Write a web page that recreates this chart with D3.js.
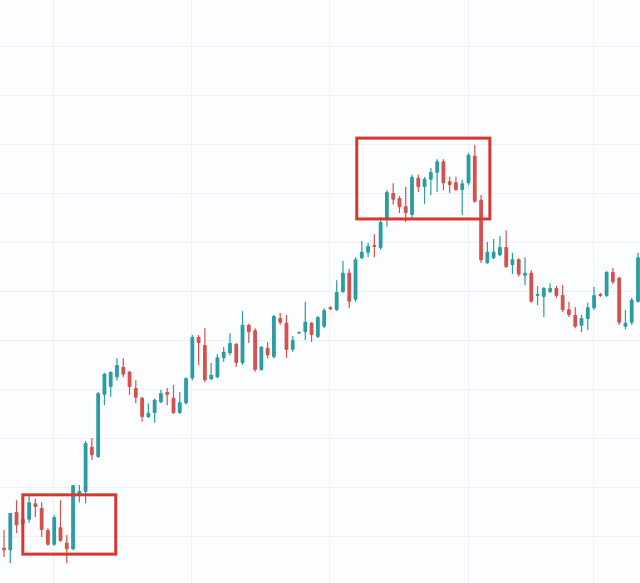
<!DOCTYPE html>
<html>
<head>
<meta charset="utf-8">
<script src="https://cdn.jsdelivr.net/npm/d3@7"></script>
<style>
  html, body { margin: 0; padding: 0; background: #fcfdfe; }
  #chart { width: 640px; height: 583px; }
</style>
</head>
<body>
<div id="chart"></div>
<script>

// Candles, one row per session: open, high, low, close.
const opens  = [7.6,7.1,14.9,13.5,13.3,16.7,15.7,11.2,8.2,11.8,8.6,7.3,18.4,19.0,28.2,26.1,38.8,40.4,42.4,44.5,
	43.5,40.2,38.2,34.3,35.1,37.3,39.4,38.2,35.1,37.1,42.2,50.6,49.0,42.0,42.4,46.3,47.3,49.2,45.3,53.1,
	52.0,43.9,48.4,46.5,54.5,53.5,48.0,51.6,51.6,53.5,50.6,52.7,56.7,56.1,59.8,63.7,58.2,66.7,67.8,69.4,
	68.8,74.5,80.0,79.0,77.3,75.5,83.1,81.2,82.7,84.1,86.5,82.4,82.2,80.6,82.0,87.6,78.6,65.7,66.7,67.3,
	69.0,65.3,66.5,63.1,63.7,59.0,58.8,59.8,60.6,59.2,56.3,55.1,52.9,54.3,56.5,59.4,59.0,63.9,62.7,52.7,
	53.5,57.8];
const highs  = [11.2,14.7,17.3,13.9,18.4,17.6,16.9,11.6,14.3,17.3,10.2,20.4,20.4,29.4,30.0,39.4,43.3,43.5,46.3,46.3,
	43.7,41.8,38.4,37.1,38.0,39.8,40.2,40.8,39.4,42.4,51.0,51.0,52.4,45.3,47.1,48.6,51.4,49.4,55.9,53.3,
	52.4,48.8,49.6,55.1,55.5,55.1,50.8,51.8,57.8,53.7,54.9,56.5,56.9,62.2,66.1,64.5,66.9,70.2,69.8,71.6,
	75.1,80.6,82.0,79.4,81.2,83.7,83.7,83.3,85.1,86.9,86.9,83.3,83.3,82.7,88.2,89.8,79.6,70.0,70.6,71.2,
	72.4,67.8,66.7,66.9,64.3,61.0,60.8,61.6,61.0,61.2,57.8,56.7,55.1,57.6,60.8,59.6,64.1,64.7,62.9,56.1,
	58.6,67.8];
const lows   = [5.7,4.5,10.6,12.0,12.7,13.9,9.8,8.0,8.0,8.8,4.5,7.1,16.9,16.7,25.5,25.9,36.7,38.4,41.8,42.4,
	38.8,37.1,33.3,34.1,33.1,37.1,36.7,34.9,34.9,36.9,41.8,44.9,41.4,41.8,42.2,45.5,46.9,44.5,44.9,49.4,
	43.5,43.7,46.3,46.3,53.1,46.3,47.6,51.4,50.0,49.6,50.4,52.4,56.1,55.9,59.6,56.5,57.8,66.5,66.9,66.9,
	68.4,73.1,77.6,75.9,74.1,74.9,80.2,77.8,79.6,80.2,80.6,80.0,80.4,75.5,81.6,78.0,65.7,65.5,66.5,67.1,
	64.7,63.5,62.9,61.2,57.6,57.1,54.7,59.6,58.6,55.7,54.7,52.4,51.6,52.0,56.1,58.8,58.8,61.4,53.1,52.2,
	53.1,57.6];
const closes = [7.1,14.7,12.2,12.4,16.9,15.9,11.2,8.2,13.9,9.0,7.3,20.4,19.2,29.0,26.5,39.2,43.1,43.5,44.9,42.9,
	40.4,38.2,34.3,35.1,37.8,39.2,38.8,35.1,37.3,42.2,50.6,49.4,41.8,42.9,46.5,47.6,49.4,45.3,53.1,51.6,
	43.9,48.6,46.9,54.9,53.5,48.0,50.0,51.6,53.7,51.0,54.7,56.1,56.3,59.8,63.7,57.8,66.5,68.0,69.2,69.0,
	74.1,80.2,78.6,77.1,75.9,83.3,81.2,82.9,84.3,86.5,82.0,81.6,80.6,82.0,87.8,78.2,66.3,68.0,68.0,69.0,
	64.9,66.5,63.3,63.7,57.8,59.4,60.6,60.6,59.0,56.1,55.1,52.7,54.5,56.7,59.2,59.0,63.9,61.8,53.5,53.5,
	58.2,66.9];

// Session index where each month starts (vertical grid), and price grid levels.
const monthStarts = [8, 30, 52, 74, 94];
const priceGrid = [10, 20, 30, 40, 50, 60, 70, 80, 90, 100, 110];

// Highlight boxes: first/last session index and price top/bottom.
const boxes = [
	{ i0: 3.0, i1: 17.8, top: 18.4, bottom: 6.3 },
	{ i0: 56.2, i1: 77.4, top: 91.2, bottom: 74.7 }
];

const upColor = "#2a9ca3",
	downColor = "#d4514d",
	boxColor = "#d63831";

const width = 640,
	height = 583;

let candles = opens.map((o, i) => ({
	i: i, open: o, high: highs[i], low: lows[i], close: closes[i]
}));

let svg = d3.select("#chart").append("svg")
	.attr("width", width)
	.attr("height", height)
	.style("display", "block");

svg.append("rect")
	.attr("width", width)
	.attr("height", height)
	.attr("fill", "#fcfdfe");

// Scales: session index -> candle centre, price -> y
let x = d3.scaleLinear()
	.domain([0, candles.length - 1])
	.range([4, 638]);

let y = d3.scaleLinear()
	.domain([0, 120])
	.range([585, -3]);

const bodyW = 3.8;

// Grid (very faint)
let grid = svg.append("g").attr("class", "grid");
grid.selectAll("line.h")
	.data(priceGrid)
	.join("line")
	.attr("class", "h")
	.attr("x1", 0).attr("x2", width)
	.attr("y1", d => Math.round(y(d)) + 0.5)
	.attr("y2", d => Math.round(y(d)) + 0.5)
	.attr("stroke", "#eff1f5");
grid.selectAll("line.v")
	.data(monthStarts)
	.join("line")
	.attr("class", "v")
	.attr("y1", 0).attr("y2", height)
	.attr("x1", d => Math.round(x(d) - 1) + 0.5)
	.attr("x2", d => Math.round(x(d) - 1) + 0.5)
	.attr("stroke", "#eff1f5");

// Candles
let candle = svg.append("g")
	.selectAll("g")
	.data(candles)
	.join("g")
	.attr("fill", d => d.close >= d.open ? upColor : downColor)
	.attr("stroke", d => d.close >= d.open ? upColor : downColor);

candle.append("line")
	.attr("x1", d => x(d.i)).attr("x2", d => x(d.i))
	.attr("y1", d => y(d.high))
	.attr("y2", d => y(d.low))
	.attr("stroke-width", 1.2);

candle.append("rect")
	.attr("x", d => x(d.i) - bodyW / 2)
	.attr("width", bodyW)
	.attr("y", d => y(Math.max(d.open, d.close)))
	.attr("height", d => Math.max(1.5, Math.abs(y(d.open) - y(d.close))))
	.attr("stroke", "none")
	.attr("rx", 0.8);

// Highlight boxes
svg.append("g")
	.selectAll("rect")
	.data(boxes)
	.join("rect")
	.attr("x", d => x(d.i0))
	.attr("y", d => y(d.top))
	.attr("width", d => x(d.i1) - x(d.i0))
	.attr("height", d => y(d.bottom) - y(d.top))
	.attr("fill", "none")
	.attr("stroke", boxColor)
	.attr("stroke-width", 3);

</script>
</body>
</html>
